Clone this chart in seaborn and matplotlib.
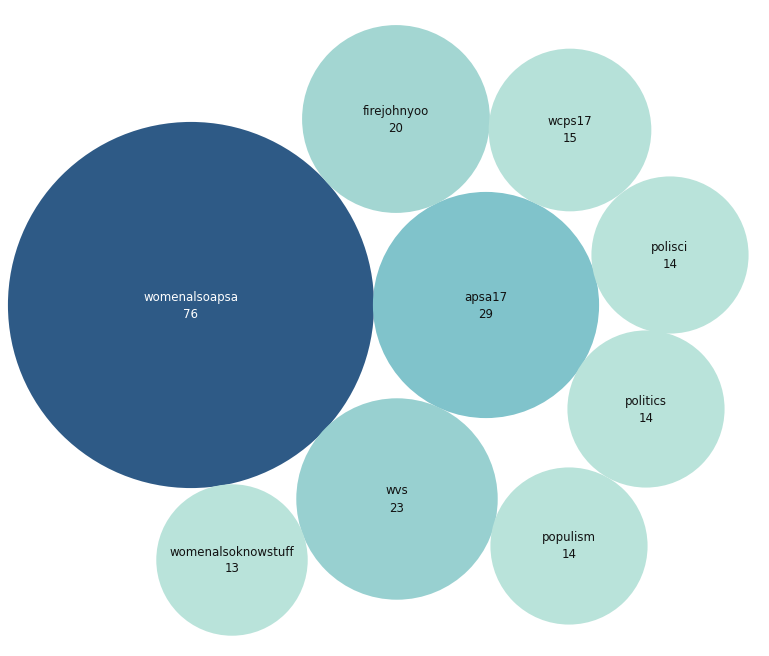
import pandas as pd
import matplotlib
matplotlib.use('Agg')
import matplotlib.pyplot as plt
import seaborn as sns

# Dati: hashtag e numero di occorrenze
tags = ['womenalsoapsa', 'apsa17', 'firejohnyoo', 'wvs', 'wcps17',
        'polisci', 'politics', 'populism', 'womenalsoknowstuff']
counts = [76, 29, 20, 23, 15, 14, 14, 14, 13]

# Layout delle bolle (centri in pixel)
cx = [191, 486, 396, 397, 570, 670, 646, 569, 232]
cy = [305, 305, 119, 499, 130, 255, 409, 546, 560]

colors = {
    'womenalsoapsa': '#2e5a86',
    'apsa17': '#80c3cb',
    'firejohnyoo': '#a3d6d2',
    'wvs': '#98d0d0',
    'wcps17': '#b6e1d9',
    'polisci': '#b9e3da',
    'politics': '#b9e3da',
    'populism': '#b9e3da',
    'womenalsoknowstuff': '#b9e3da',
}

df = pd.DataFrame({'tag': tags, 'count': counts, 'x': cx, 'y': cy})

sns.set_style("white")

W, H, DPI = 769, 656, 100
fig = plt.figure(figsize=(W / DPI, H / DPI), dpi=DPI)
ax = fig.add_axes([0, 0, 1, 1])

# area proporzionale al valore: raggio = 21 * sqrt(count) px
k = (2 * 21 * 72 / DPI) ** 2  # punti^2 per unita'
sns.scatterplot(data=df, x='x', y='y', hue='tag', palette=colors,
                size='count', sizes=(min(counts) * k, max(counts) * k),
                size_norm=(min(counts), max(counts)),
                linewidth=0, alpha=1, legend=False, ax=ax)

for _, r in df.iterrows():
    col = 'white' if r['tag'] == 'womenalsoapsa' else '#111111'
    ax.text(r['x'], r['y'] - 8, r['tag'], ha='center', va='center',
            fontsize=8.5, color=col)
    ax.text(r['x'], r['y'] + 9, str(r['count']), ha='center', va='center',
            fontsize=8.5, color=col)

ax.set_xlim(0, W)
ax.set_ylim(H, 0)
ax.axis('off')

plt.savefig('out.png', dpi=DPI)
plt.close()
